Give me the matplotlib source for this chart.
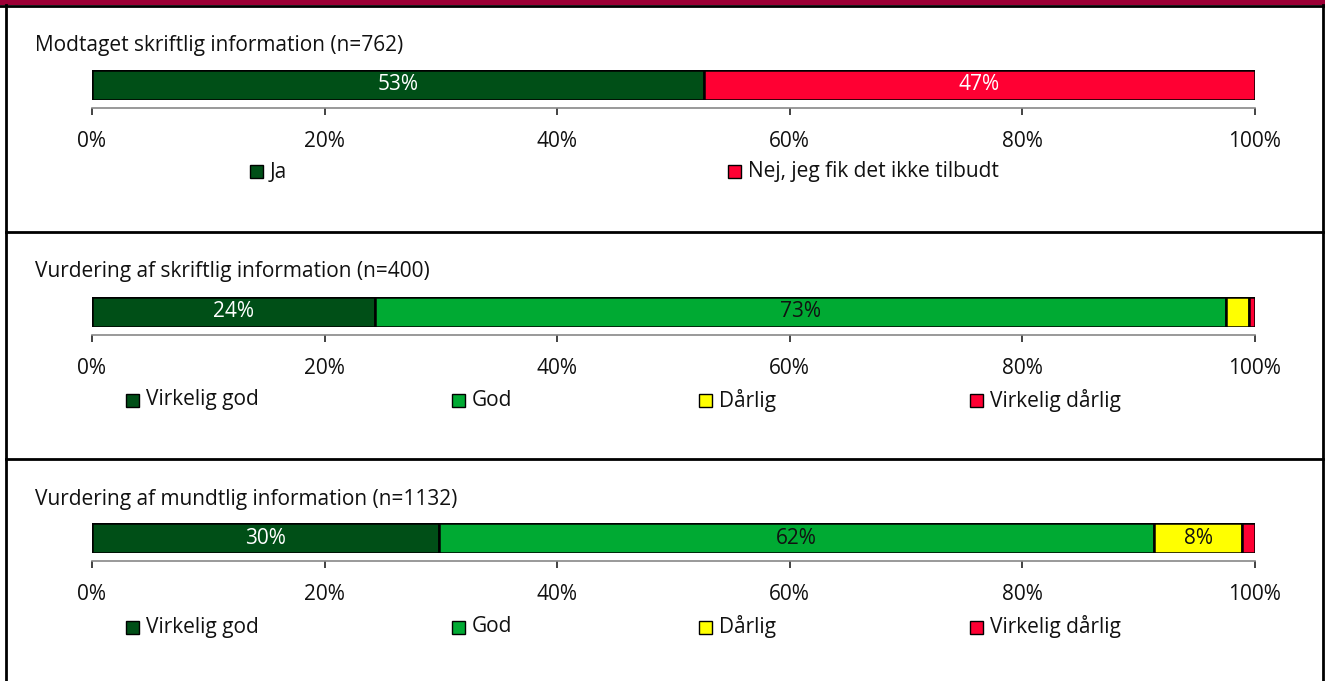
import matplotlib
matplotlib.use("Agg")
import matplotlib.pyplot as plt
from matplotlib.patches import Rectangle

plt.rcParams['font.family'] = ['Open Sans', 'DejaVu Sans']

W, H = 1325, 681

titles = ["Modtaget skriftlig information (n=762)",
          "Vurdering af skriftlig information (n=400)",
          "Vurdering af mundtlig information (n=1132)"]
cats1 = ["Ja", "Nej, jeg fik det ikke tilbudt"]
vals1 = [52.6, 47.4]
cats2 = ["Virkelig god", "God", "Dårlig", "Virkelig dårlig"]
vals2 = [24.3, 73.2, 2.0, 0.5]
cats3 = ["Virkelig god", "God", "Dårlig", "Virkelig dårlig"]
vals3 = [29.8, 61.5, 7.6, 1.1]
ticks = [0, 20, 40, 60, 80, 100]
tick_labels = ["0%", "20%", "40%", "60%", "80%", "100%"]

col2 = {"Ja": "#004F17", "Nej, jeg fik det ikke tilbudt": "#FF0033",
        "Virkelig god": "#004F17", "God": "#00AA33", "Dårlig": "#FFFF00",
        "Virkelig dårlig": "#FF0033"}
txtcol = {"#004F17": "white", "#FF0033": "white", "#00AA33": "#111111", "#FFFF00": "#111111"}

panels = [
    (titles[0], cats1, vals1, 70, 45, 172, [256, 734]),
    (titles[1], cats2, vals2, 297, 272, 400, [132, 458, 705, 976]),
    (titles[2], cats3, vals3, 523, 499, 627, [132, 458, 705, 976]),
]

FS = 15

fig = plt.figure(figsize=(W / 100, H / 100), dpi=100)

def fx(x):
    return x / W

def fy(y):
    return 1 - y / H

# frame
fig.add_artist(Rectangle((0, fy(5)), 1, 5 / H, transform=fig.transFigure,
                         facecolor="#9C0036", edgecolor="none"))
fig.add_artist(plt.Line2D([fx(0), fx(W)], [fy(5.5), fy(5.5)], transform=fig.transFigure, color="black", lw=2))
fig.add_artist(plt.Line2D([fx(6), fx(6)], [fy(5), fy(681)], transform=fig.transFigure, color="black", lw=2))
fig.add_artist(plt.Line2D([fx(1323), fx(1323)], [fy(5), fy(681)], transform=fig.transFigure, color="black", lw=2))
for ysep in [232, 459]:
    fig.add_artist(plt.Line2D([fx(6), fx(1323)], [fy(ysep), fy(ysep)], transform=fig.transFigure, color="black", lw=2))

x0, x1 = 92, 1255
for title, cats, vals, ybar, ytitle, yleg, legx in panels:
    fig.text(fx(35), fy(ytitle), title, fontsize=FS, va="center", ha="left", color="#111111")
    ax = fig.add_axes([fx(x0), fy(ybar + 30), (x1 - x0) / W, 30 / H])
    left = 0
    for c, v in zip(cats, vals):
        color = col2[c]
        ax.barh(0, v, left=left, height=1, color=color, edgecolor="black", linewidth=1.8)
        if v >= 5:
            ax.text(left + v / 2, 0, f"{round(v)}%", ha="center", va="center",
                    fontsize=FS, color=txtcol[color])
        left += v
    ax.set_xlim(0, 100)
    ax.set_ylim(-0.5, 0.5)
    for s in ["top", "left", "right"]:
        ax.spines[s].set_visible(False)
    ax.spines["bottom"].set_position(("outward", 6))
    ax.spines["bottom"].set_color("#888888")
    ax.spines["bottom"].set_linewidth(1.2)
    ax.set_yticks([])
    ax.set_xticks(ticks)
    ax.set_xticklabels(tick_labels)
    ax.tick_params(axis="x", direction="out", length=5, width=1.2, color="#222222",
                   labelsize=FS, pad=11, labelcolor="#111111")
    for c, lx in zip(cats, legx):
        fig.add_artist(Rectangle((fx(lx - 6.5), fy(yleg + 6.5)), 13 / W, 13 / H,
                                 transform=fig.transFigure, facecolor=col2[c],
                                 edgecolor="black", linewidth=1))
        fig.text(fx(lx + 14), fy(yleg), c, fontsize=FS, va="center", ha="left", color="#111111")

fig.savefig("out.png", dpi=100)
